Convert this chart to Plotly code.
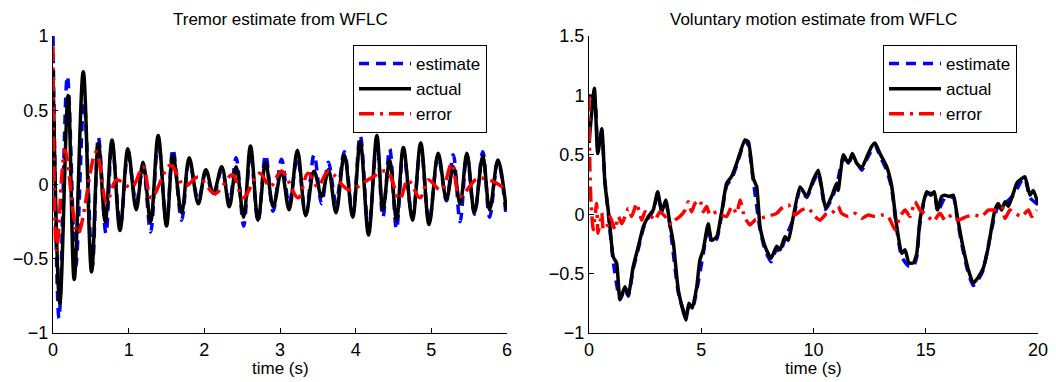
import plotly.graph_objects as go

# ---------------- Left: tremor estimate (time in s) ----------------
tremor_actual_t = [0.00, 0.09, 0.20, 0.28, 0.40, 0.51, 0.60, 0.69, 0.78, 0.885, 0.99, 1.10, 1.19, 1.29,
                   1.39, 1.50, 1.585, 1.70, 1.80, 1.92, 2.02, 2.12, 2.23, 2.33, 2.42, 2.52, 2.61, 2.71,
                   2.81, 2.91, 3.02, 3.12, 3.23, 3.34, 3.45, 3.55, 3.64, 3.74, 3.85, 3.96, 4.06, 4.17,
                   4.28, 4.36, 4.45, 4.54, 4.63, 4.75, 4.86, 4.97, 5.09, 5.20, 5.29, 5.38, 5.47, 5.57,
                   5.68, 5.77, 5.88, 5.99]
tremor_actual_y = [0.77, -0.80, 0.60, -0.64, 0.76, -0.59, 0.28, -0.25, 0.30, -0.31, 0.24, -0.17, 0.15, -0.25,
                   0.33, -0.28, 0.20, -0.19, 0.18, -0.13, 0.10, -0.06, 0.12, -0.15, 0.12, -0.22, 0.26, -0.24,
                   0.15, -0.15, 0.09, -0.17, 0.23, -0.21, 0.09, -0.08, 0.10, -0.19, 0.20, -0.22, 0.29, -0.34,
                   0.33, -0.17, 0.165, -0.24, 0.25, -0.24, 0.28, -0.27, 0.21, -0.10, 0.12, -0.13, 0.21, -0.19,
                   0.19, -0.17, 0.165, -0.17]

tremor_est_t = [0.00, 0.08, 0.19, 0.30, 0.41, 0.52, 0.60, 0.70, 0.78, 0.89, 0.99, 1.10, 1.19, 1.29,
                1.39, 1.50, 1.585, 1.70, 1.80, 1.92, 2.02, 2.12, 2.23, 2.33, 2.42, 2.52, 2.61, 2.71,
                2.81, 2.91, 3.02, 3.12, 3.23, 3.34, 3.45, 3.55, 3.64, 3.74, 3.85, 3.96, 4.06, 4.17,
                4.28, 4.36, 4.45, 4.54, 4.63, 4.75, 4.86, 4.97, 5.09, 5.20, 5.29, 5.38, 5.47, 5.57,
                5.68, 5.77, 5.88, 5.99]
tremor_est_y = [1.00, -0.90, 0.73, -0.55, 0.55, -0.55, 0.32, -0.33, 0.28, -0.28, 0.20, -0.12, 0.12, -0.32,
                0.30, -0.26, 0.24, -0.24, 0.15, -0.10, 0.08, -0.08, 0.10, -0.12, 0.18, -0.28, 0.22, -0.25,
                0.20, -0.18, 0.17, -0.13, 0.18, -0.20, 0.20, -0.13, 0.15, -0.12, 0.22, -0.20, 0.33, -0.30,
                0.28, -0.22, 0.24, -0.30, 0.22, -0.22, 0.25, -0.25, 0.19, -0.11, 0.20, -0.25, 0.20, -0.20,
                0.22, -0.22, 0.16, -0.22]

tremor_err_t = [0.00, 0.05, 0.16, 0.33, 0.57, 0.71, 0.84, 1.04, 1.19, 1.30, 1.55, 1.74, 1.92, 2.14,
                2.37, 2.51, 2.73, 2.87, 3.02, 3.24, 3.37, 3.50, 3.64, 3.91, 4.19, 4.41, 4.58, 4.69,
                4.85, 4.96, 5.13, 5.27, 5.38, 5.61, 5.82, 6.00]
tremor_err_y = [0.93, -0.44, 0.23, -0.33, 0.22, -0.12, 0.03, -0.02, 0.12, -0.09, 0.13, -0.01, 0.05, -0.06,
                0.065, -0.09, 0.075, -0.015, 0.09, -0.09, 0.075, -0.015, 0.09, -0.035, 0.04, 0.09, -0.10, 0.03,
                -0.09, 0.03, -0.04, 0.14, -0.08, 0.04, 0.02, -0.04]

# ---------------- Right: voluntary motion estimate ----------------
vol_actual_t = [0.00, 0.24, 0.39, 0.57, 0.71, 0.89, 1.08, 1.23, 1.38, 1.60, 1.75, 1.97, 2.20, 2.42, 2.64,
                2.86, 3.06, 3.24, 3.42, 3.61, 3.76, 3.98, 4.31, 4.45, 4.60, 4.80, 4.94, 5.09, 5.31, 5.46,
                5.69, 5.91, 6.13, 6.36, 6.58, 6.95, 7.10, 7.32, 7.47, 7.62, 7.84, 8.11, 8.36, 8.51, 8.73,
                8.88, 9.10, 9.40, 9.70, 9.99, 10.21, 10.36, 10.54, 10.81, 11.03, 11.10, 11.33, 11.55,
                11.73, 11.92, 12.15, 12.37, 12.59, 12.74, 12.96, 13.26, 13.48, 13.71, 13.93, 14.08, 14.25,
                14.45, 14.60, 14.74, 14.89, 15.04, 15.23, 15.38, 15.53, 15.71, 15.86, 16.04, 16.23, 16.38,
                16.60, 16.90, 17.12, 17.34, 17.56, 17.79, 17.94, 18.08, 18.23, 18.38, 18.53, 18.68, 18.90,
                19.05, 19.27, 19.42, 19.64, 19.79, 20.00]
vol_actual_y = [0.60, 1.06, 0.51, 0.72, 0.26, -0.02, -0.36, -0.41, -0.72, -0.61, -0.68, -0.44, -0.27, -0.105, -0.02,
                0.035, 0.19, 0.02, 0.12, -0.09, -0.245, -0.64, -0.89, -0.75, -0.79, -0.61, -0.385, -0.30, -0.08, -0.22,
                -0.19, 0.02, 0.26, 0.32, 0.43, 0.625, 0.61, 0.30, 0.23, -0.105, -0.27, -0.37, -0.27, -0.30, -0.19,
                -0.22, -0.02, 0.23, 0.15, 0.29, 0.37, 0.23, 0.05, 0.15, 0.26, 0.20, 0.50, 0.43,
                0.51, 0.43, 0.39, 0.48, 0.57, 0.60, 0.51, 0.40, 0.24, -0.105, -0.33, -0.30, -0.41,
                -0.41, -0.33, -0.05, 0.09, 0.19, 0.16, 0.19, 0.035, 0.15, 0.16, 0.15, 0.16, 0.01,
                -0.22, -0.47, -0.58, -0.53, -0.455, -0.27, -0.105, 0.035, 0.09, 0.035, 0.105, 0.065, 0.175,
                0.26, 0.30, 0.315, 0.16, 0.20, 0.09]

vol_est_t = [0.00, 0.24, 0.39, 0.57, 0.71, 0.89, 1.08, 1.38, 1.60, 1.75, 1.97, 2.20, 2.42, 2.64, 2.86,
             3.06, 3.24, 3.42, 3.61, 3.98, 4.31, 4.45, 4.60, 4.80, 5.09, 5.31, 5.46, 5.69, 5.91, 6.13,
             6.36, 6.58, 6.95, 7.10, 7.32, 7.62, 7.84, 8.11, 8.36, 8.51, 8.73, 9.10, 9.40, 9.70, 9.99,
             10.21, 10.54, 10.81, 11.03, 11.33, 11.55, 11.73, 12.15, 12.37, 12.74, 12.96, 13.26, 13.48,
             13.71, 13.93, 14.25, 14.45, 14.60, 14.74, 15.04, 15.38, 15.53, 15.86, 16.23, 16.38, 16.60,
             16.90, 17.12, 17.34, 17.56, 17.94, 18.23, 18.53, 18.90, 19.27, 19.42, 19.64, 20.00]
vol_est_y = [1.00, 0.98, 0.55, 0.68, 0.28, -0.05, -0.40, -0.72, -0.63, -0.69, -0.46, -0.29, -0.12, -0.03, 0.03,
             0.16, 0.03, 0.10, -0.10, -0.66, -0.86, -0.78, -0.80, -0.64, -0.33, -0.10, -0.24, -0.21, 0.00, 0.24,
             0.30, 0.41, 0.62, 0.58, 0.28, -0.13, -0.30, -0.40, -0.29, -0.32, -0.21, -0.04, 0.21, 0.14, 0.27,
             0.35, 0.04, 0.13, 0.24, 0.48, 0.42, 0.49, 0.37, 0.46, 0.58, 0.49, 0.37, 0.22,
             -0.13, -0.36, -0.44, -0.44, -0.36, -0.08, 0.17, 0.17, 0.02, 0.14, 0.14, -0.01, -0.25,
             -0.50, -0.60, -0.55, -0.47, -0.12, 0.07, 0.09, 0.16, 0.28, 0.30, 0.14, 0.08]

vol_err_t = [0.00, 0.04, 0.09, 0.19, 0.34, 0.40, 0.57, 0.64, 0.79, 0.94, 1.16, 1.31, 1.46, 1.60, 1.75,
             1.90, 2.12, 2.35, 2.49, 2.72, 2.94, 3.16, 3.46, 3.68, 3.83, 4.05, 4.28, 4.42, 4.57, 4.72,
             4.94, 5.09, 5.24, 5.39, 5.69, 5.91, 6.13, 6.36, 6.58, 6.73, 6.92, 7.17, 7.39, 7.62, 7.91,
             8.36, 8.58, 8.88, 9.18, 9.47, 9.77, 10.07, 10.29, 10.59, 10.81, 11.10, 11.25, 11.55, 11.85,
             12.15, 12.44, 12.74, 13.04, 13.33, 13.63, 13.85, 14.08, 14.30, 14.52, 14.74, 15.04, 15.34,
             15.63, 15.86, 16.16, 16.45, 16.82, 17.19, 17.49, 17.79, 18.08, 18.38, 18.53, 18.75, 18.98,
             19.27, 19.57, 19.72, 19.94]
vol_err_y = [0.99, 0.37, 0.09, -0.13, 0.09, -0.16, 0.01, -0.13, -0.105, -0.02, -0.13, -0.02, -0.08, -0.02, 0.05,
             -0.02, 0.09, -0.05, 0.02, -0.007, -0.05, 0.02, -0.035, -0.09, -0.05, -0.02, 0.035, 0.105, 0.02, 0.09,
             0.12, 0.02, 0.065, -0.007, 0.02, -0.007, -0.02, 0.065, 0.007, 0.12, -0.02, -0.09, -0.05, -0.035, -0.02,
             0.007, 0.05, 0.08, -0.007, 0.035, 0.05, -0.02, -0.05, 0.007, 0.007, 0.065, 0.007, -0.02, 0.007,
             -0.035, -0.007, -0.02, -0.007, -0.02, -0.13, -0.02, 0.035, -0.02, 0.105, 0.035, -0.007, -0.06,
             0.007, -0.05, -0.007, -0.05, -0.02, -0.007, -0.02, 0.035, 0.035, 0.065, -0.035, 0.035, 0.007,
             -0.02, 0.035, -0.02, 0.035]

series_names = ["estimate", "actual", "error"]
titles = ["Tremor estimate from WFLC", "Voluntary motion estimate from WFLC"]
xlabel = "time (s)"

FONT = "Liberation Sans, Arial, Helvetica, sans-serif"
OFF = 8                      # default page body margin
W, H = 1056 - OFF, 382 - OFF  # figure size inside the window
BLUE, BLACK, RED = "#0000ff", "#000000", "#ff0000"
LW = 3.5


def fx(px):
    """window pixel x -> paper fraction"""
    return (px - OFF) / W


def fy(py):
    """window pixel y -> paper fraction (from bottom)"""
    return 1 - (py - OFF) / H


fig = go.Figure()


def add_set(xa, ya, legend, est, act, err, shape_est, shape_err):
    fig.add_trace(go.Scatter(x=est[0], y=est[1], mode="lines", name=series_names[0],
                             xaxis=xa, yaxis=ya, legend=legend,
                             line=dict(color=BLUE, width=LW, dash="10px,7px", **shape_est)))
    fig.add_trace(go.Scatter(x=act[0], y=act[1], mode="lines", name=series_names[1],
                             xaxis=xa, yaxis=ya, legend=legend,
                             line=dict(color=BLACK, width=LW, **shape_est)))
    fig.add_trace(go.Scatter(x=err[0], y=err[1], mode="lines", name=series_names[2],
                             xaxis=xa, yaxis=ya, legend=legend,
                             line=dict(color=RED, width=LW, dash="15px,6px,3px,6px", **shape_err)))


spline = dict(shape="spline", smoothing=1.0)
spline_soft = dict(shape="spline", smoothing=0.5)
add_set("x", "y", "legend", (tremor_est_t, tremor_est_y), (tremor_actual_t, tremor_actual_y),
        (tremor_err_t, tremor_err_y), spline, spline)
add_set("x2", "y2", "legend2", (vol_est_t, vol_est_y), (vol_actual_t, vol_actual_y),
        (vol_err_t, vol_err_y), spline_soft, spline_soft)

# pixel-based domains (window coordinates of the reference)
L1, R1 = 53, 507
L2, R2 = 589, 1038
TOP, BOT = 36, 333
ydom = [fy(BOT), fy(TOP)]

axis_common = dict(showline=True, linecolor="black", linewidth=1, mirror=False,
                   ticks="inside", ticklen=5, tickcolor="black", tickwidth=1,
                   showgrid=False, zeroline=False, automargin=False,
                   tickfont=dict(family=FONT, size=18, color="black"))

legend_style = dict(xanchor="left", yanchor="top", bgcolor="white", bordercolor="black",
                    borderwidth=1, font=dict(family=FONT, size=17, color="black"),
                    tracegroupgap=0, itemwidth=52)

fig.update_layout(
    width=W, height=H,
    paper_bgcolor="white", plot_bgcolor="white",
    margin=dict(l=0, r=0, t=0, b=0, pad=0, autoexpand=False),
    showlegend=True,
    xaxis=dict(domain=[fx(L1), fx(R1)], range=[0, 6], tickvals=[0, 1, 2, 3, 4, 5, 6],
               anchor="y", **axis_common),
    yaxis=dict(domain=ydom, range=[-1, 1], tickvals=[-1, -0.5, 0, 0.5, 1],
               anchor="x", **axis_common),
    xaxis2=dict(domain=[fx(L2), fx(R2)], range=[0, 20], tickvals=[0, 5, 10, 15, 20],
                anchor="y2", **axis_common),
    yaxis2=dict(domain=ydom, range=[-1, 1.5], tickvals=[-1, -0.5, 0, 0.5, 1, 1.5],
                anchor="x2", **axis_common),
    legend=dict(x=fx(353), y=fy(45), **legend_style),
    legend2=dict(x=fx(883), y=fy(45), **legend_style),
)

annotations = []
for (l, r), title in zip([(L1, R1), (L2, R2)], titles):
    cx = fx((l + r) / 2)
    annotations.append(dict(text=title, x=cx, y=1.0, xref="paper", yref="paper",
                            xanchor="center", yanchor="top", showarrow=False,
                            font=dict(family=FONT, size=17, color="black")))
    annotations.append(dict(text=xlabel, x=cx, y=fy(368), xref="paper", yref="paper",
                            xanchor="center", yanchor="middle", showarrow=False,
                            font=dict(family=FONT, size=17, color="black")))
fig.update_layout(annotations=annotations)

fig.write_html("out.html")
